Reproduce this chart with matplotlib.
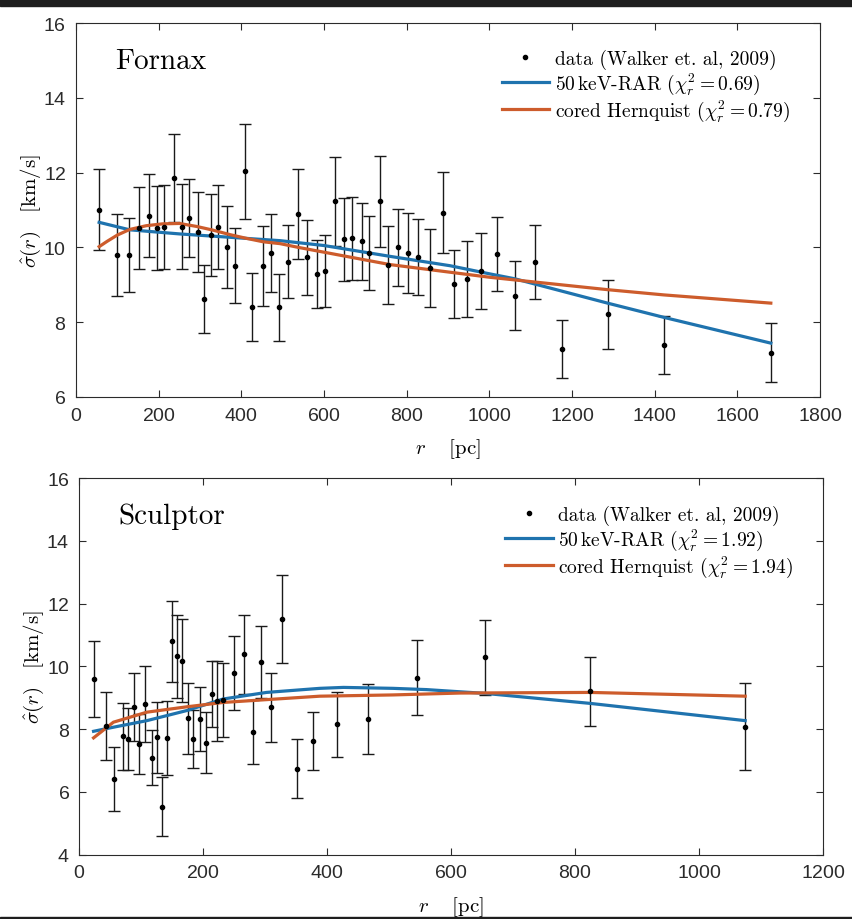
import matplotlib
matplotlib.use("Agg")
import matplotlib.pyplot as plt
from matplotlib.patches import Rectangle

# Fornax data (Walker et al. 2009)
fornax_r = [56, 98, 128, 153, 177, 196, 214, 236, 256, 273, 294, 309, 327, 344, 365,
            385, 408, 426, 452, 471, 492, 514, 538, 560, 582, 602, 627, 649, 668, 692,
            709, 736, 756, 778, 804, 827, 856, 889, 915, 945, 980, 1019, 1062, 1110,
            1175, 1286, 1423, 1681]
fornax_sigma = [11.01, 9.80, 9.80, 10.52, 10.85, 10.52, 10.54, 11.86, 10.55, 10.79, 10.41,
                8.62, 10.34, 10.55, 10.01, 9.51, 12.03, 8.41, 9.50, 9.84, 8.40, 9.62, 10.89,
                9.73, 9.29, 9.37, 11.23, 10.22, 10.24, 10.16, 9.84, 11.23, 9.54, 10.01,
                9.85, 9.75, 9.45, 10.93, 9.02, 9.15, 9.36, 9.82, 8.71, 9.62, 7.28, 8.21,
                7.39, 7.18]
fornax_err = [1.09, 1.09, 0.99, 1.09, 1.11, 1.12, 1.12, 1.18, 1.14, 1.04, 1.07, 0.90, 1.10,
              1.12, 1.10, 1.00, 1.28, 0.90, 1.07, 1.04, 0.90, 0.98, 1.20, 0.99, 0.91, 0.97,
              1.18, 1.11, 1.10, 1.04, 0.99, 1.22, 1.04, 1.03, 1.06, 1.02, 1.04, 1.09, 0.91,
              1.01, 1.02, 0.98, 0.93, 0.99, 0.77, 0.92, 0.77, 0.79]

fornax_rar_r = [56, 130, 251, 373, 494, 600, 760, 905, 1002, 1062, 1286, 1422, 1681]
fornax_rar_sigma = [10.67, 10.47, 10.36, 10.27, 10.18, 10.05, 9.76, 9.51, 9.29, 9.16, 8.51, 8.13, 7.44]
fornax_hern_r = [56, 75, 100, 130, 170, 210, 250, 292, 332, 373, 413, 453, 494, 538,
                 760, 1002, 1062, 1286, 1422, 1681]
fornax_hern_sigma = [10.02, 10.16, 10.33, 10.48, 10.58, 10.63, 10.64, 10.56, 10.46, 10.34,
                     10.24, 10.15, 10.10, 10.00, 9.54, 9.20, 9.13, 8.87, 8.73, 8.51]

# Sculptor data (Walker et al. 2009)
sculptor_r = [23, 43, 56, 70, 78, 88, 97, 106, 117, 126, 134, 142, 150, 158, 166, 175,
              184, 195, 204, 214, 222, 232, 249, 265, 280, 293, 309, 327, 351, 377, 415,
              466, 545, 654, 824, 1074]
sculptor_sigma = [9.60, 8.11, 6.41, 7.77, 7.68, 8.70, 7.52, 8.80, 7.09, 7.74, 5.52, 7.72,
                  10.80, 10.32, 10.18, 8.34, 7.68, 8.31, 7.57, 9.12, 8.90, 8.92, 9.79,
                  10.39, 7.91, 10.15, 8.70, 11.50, 6.74, 7.63, 8.15, 8.32, 9.64, 10.29,
                  9.21, 8.08]
sculptor_err = [1.22, 1.08, 1.01, 1.07, 0.98, 1.08, 0.96, 1.21, 0.88, 1.14, 0.94, 1.19,
                1.29, 1.33, 1.33, 1.13, 0.92, 1.02, 0.96, 1.06, 1.28, 1.18, 1.19, 1.26,
                1.01, 1.15, 1.10, 1.40, 0.94, 0.92, 1.03, 1.13, 1.19, 1.19, 1.10, 1.38]

sculptor_rar_r = [23, 55, 109, 173, 232, 302, 388, 426, 506, 560, 614, 654, 824, 1074]
sculptor_rar_sigma = [7.93, 8.06, 8.27, 8.59, 8.96, 9.17, 9.30, 9.33, 9.30, 9.26, 9.19, 9.14, 8.82, 8.27]
sculptor_hern_r = [23, 55, 109, 173, 232, 302, 388, 506, 614, 824, 1074]
sculptor_hern_sigma = [7.72, 8.22, 8.54, 8.71, 8.85, 8.94, 9.05, 9.09, 9.15, 9.17, 9.05]

PANELS = [
    {
        "name": "Fornax", "r": fornax_r, "sigma": fornax_sigma, "err": fornax_err,
        "rar": (fornax_rar_r, fornax_rar_sigma), "hern": (fornax_hern_r, fornax_hern_sigma),
        "chi": ("0.69", "0.79"), "xlim": (0, 1800), "ylim": (6, 16),
        "xticks": [0, 200, 400, 600, 800, 1000, 1200, 1400, 1600, 1800],
        "yticks": [6, 8, 10, 12, 14, 16],
        "rect": [76 / 852, 1 - 398 / 920, 744 / 852, 374 / 920],
    },
    {
        "name": "Sculptor", "r": sculptor_r, "sigma": sculptor_sigma, "err": sculptor_err,
        "rar": (sculptor_rar_r, sculptor_rar_sigma), "hern": (sculptor_hern_r, sculptor_hern_sigma),
        "chi": ("1.92", "1.94"), "xlim": (0, 1200), "ylim": (4, 16),
        "xticks": [0, 200, 400, 600, 800, 1000, 1200],
        "yticks": [4, 6, 8, 10, 12, 14, 16],
        "rect": [79.3 / 852, 1 - 855.5 / 920, 744 / 852, 376.2 / 920],
    },
]

BLUE = "#1F73AE"
ORANGE = "#CD5C2C"
INK = "#2b2b2b"
SERIF = "cmr10"

plt.rcParams["mathtext.fontset"] = "cm"
plt.rcParams["axes.formatter.use_mathtext"] = True

fig = plt.figure(figsize=(8.52, 9.2), dpi=100)

for panel in PANELS:
    ax = fig.add_axes(panel["rect"])
    ax.errorbar(panel["r"], panel["sigma"], yerr=panel["err"], fmt="none",
                ecolor="#1a1a1a", elinewidth=1.0, capsize=4.5, capthick=1.0, zorder=2)
    ax.plot(panel["r"], panel["sigma"], ".", color="black", ms=6,
            label="data (Walker et. al, 2009)", zorder=4)
    ax.plot(*panel["rar"], color=BLUE, lw=2.3, zorder=3,
            label=r"50$\,$keV-RAR ($\chi_r^2 = %s$)" % panel["chi"][0])
    ax.plot(*panel["hern"], color=ORANGE, lw=2.3, zorder=3,
            label=r"cored Hernquist ($\chi_r^2 = %s$)" % panel["chi"][1])

    ax.set_xlim(*panel["xlim"])
    ax.set_ylim(*panel["ylim"])
    ax.set_xticks(panel["xticks"])
    ax.set_yticks(panel["yticks"])
    ax.tick_params(direction="in", length=5, width=0.8, top=True, right=True,
                   labelsize=14, colors=INK, pad=7)
    for label in ax.get_xticklabels() + ax.get_yticklabels():
        label.set_fontfamily("Liberation Sans")
    for spine in ax.spines.values():
        spine.set_color(INK)
        spine.set_linewidth(0.8)

    ax.set_xlabel(r"$r\quad\ [\mathrm{pc}]$", fontsize=15, labelpad=9)
    ax.set_ylabel(r"$\hat{\sigma}(r)\quad[\mathrm{km/s}]$", fontsize=15, labelpad=0)

    ax.text(0.052, 0.88, panel["name"], transform=ax.transAxes, fontsize=21,
            fontfamily=SERIF, va="baseline", ha="left")

    leg = ax.legend(loc="upper left", bbox_to_anchor=(0.572, 0.93), frameon=False,
                    borderpad=0, borderaxespad=0, handlelength=2.45, handletextpad=0.3,
                    labelspacing=0.08, prop={"family": SERIF, "size": 14})

fig.patches.append(Rectangle((0, 1 - 7 / 920), 1, 7 / 920, transform=fig.transFigure,
                             color="#1e1e1e", zorder=10))
fig.patches.append(Rectangle((0, 0), 1, 2 / 920, transform=fig.transFigure,
                             color="#1e1e1e", zorder=10))

fig.savefig("out.png", dpi=100)
